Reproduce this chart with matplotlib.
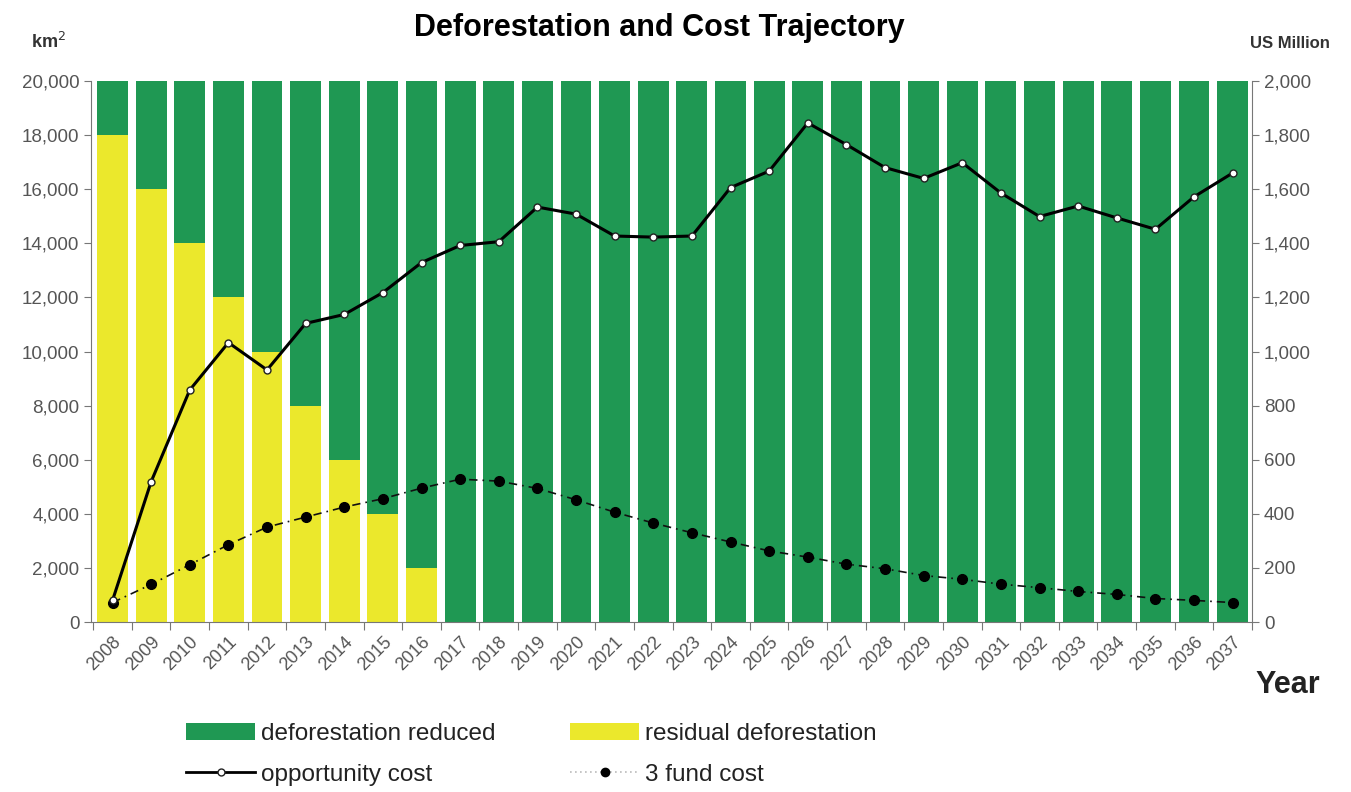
import matplotlib
matplotlib.use("Agg")
import matplotlib.pyplot as plt
import numpy as np
from matplotlib.patches import Patch
from matplotlib.lines import Line2D
from matplotlib.ticker import FuncFormatter

plt.rcParams['font.family'] = ['Liberation Sans', 'DejaVu Sans']

years = [str(y) for y in range(2008, 2038)]
residual = [18000, 16000, 14000, 12000, 10000, 8000, 6000, 4000, 2000] + [0] * 21
total = [20000] * 30
reduced = [t - r for t, r in zip(total, residual)]
opportunity_cost = [80, 519, 858, 1033, 932, 1104, 1137, 1218, 1329, 1392, 1406, 1534, 1508, 1427,
                    1423, 1427, 1606, 1667, 1845, 1765, 1680, 1640, 1698, 1586, 1499, 1538, 1494,
                    1452, 1572, 1660]
fund_cost = [72, 139, 212, 286, 351, 388, 425, 456, 495, 528, 521, 494, 452, 406, 366, 330, 296,
             263, 240, 214, 197, 172, 158, 140, 127, 113, 102, 87, 80, 72]

GREEN = '#1f9853'
YELLOW = '#ebe82c'
TICKC = '#555555'

fig = plt.figure(figsize=(13.51, 7.92), dpi=100)
ax = fig.add_axes([0.0674, 0.2146, 0.8593, 0.6831])
x = np.arange(len(years))
ax.bar(x, residual, width=0.8, color=YELLOW, edgecolor='none', zorder=2)
ax.bar(x, reduced, width=0.8, bottom=residual, color=GREEN, edgecolor='none', zorder=2)
ax.set_xlim(-0.556, len(years) - 0.56)
ax.set_ylim(0, 20000)
ax.set_yticks(np.arange(0, 20001, 2000))
ax.yaxis.set_major_formatter(FuncFormatter(lambda v, p: f"{int(v):,}"))
ax.tick_params(axis='y', labelsize=13.5, labelcolor=TICKC, color='#777777', length=5, direction='out')

ax.set_xticks(np.arange(-0.5, len(years), 1.0))
ax.set_xticklabels([])
ax.tick_params(axis='x', which='major', length=6, color='#777777', direction='out')
ax.set_xticks(x, minor=True)
ax.set_xticklabels(years, minor=True, rotation=45, ha='right', rotation_mode='anchor',
                   fontsize=13, color=TICKC)
ax.tick_params(axis='x', which='minor', length=0, pad=8)

for s in ['top', 'right']:
    ax.spines[s].set_visible(False)
ax.spines['left'].set_color('#777777')
ax.spines['bottom'].set_color('#777777')

ax2 = ax.twinx()
ax2.set_ylim(0, 2000)
ax2.set_yticks(np.arange(0, 2001, 200))
ax2.yaxis.set_major_formatter(FuncFormatter(lambda v, p: f"{int(v):,}"))
ax2.tick_params(axis='y', labelsize=13.5, labelcolor=TICKC, color='#777777', length=5, direction='out')
for s in ['top', 'left', 'bottom']:
    ax2.spines[s].set_visible(False)
ax2.spines['right'].set_color('#777777')

ax2.plot(x, fund_cost, color='#111111', lw=1.2, linestyle=(0, (5, 3, 1, 3)),
         marker='o', markersize=7, markerfacecolor='black', markeredgecolor='black', zorder=3)
ax2.plot(x, opportunity_cost, color='black', lw=2.2, marker='o', markersize=5,
         markerfacecolor='white', markeredgecolor='#222222', markeredgewidth=1, zorder=4)

fig.text(0.488, 0.965, 'Deforestation and Cost Trajectory', ha='center', va='center',
         fontsize=22, fontweight='bold')
fig.text(0.036, 0.947, 'km$^2$', ha='center', va='center', fontsize=13, fontweight='bold', color='#333333')
fig.text(0.955, 0.945, 'US Million', ha='center', va='center', fontsize=12, fontweight='bold', color='#333333')
fig.text(0.953, 0.135, 'Year', ha='center', va='center', fontsize=22, fontweight='bold', color='#222222')

handles = [Patch(facecolor=GREEN, edgecolor='none'),
           Line2D([0], [0], color='black', lw=2, marker='o', markersize=5,
                  markerfacecolor='white', markeredgecolor='#222222'),
           Patch(facecolor=YELLOW, edgecolor='none'),
           Line2D([0], [0], color='#bbbbbb', lw=1.2, linestyle=(0, (1, 2)), marker='o', markersize=6,
                  markerfacecolor='black', markeredgecolor='black')]
labels = ['deforestation reduced', 'opportunity cost', 'residual deforestation', '3 fund cost']
fig.legend(handles, labels, ncol=2, loc='center left', bbox_to_anchor=(0.1215, 0.0475),
           frameon=False, fontsize=17.5, handlelength=2.85, handleheight=0.7, columnspacing=3.05,
           labelspacing=0.75, handletextpad=0.25, labelcolor='#222222')

fig.savefig('out.png', dpi=100)
